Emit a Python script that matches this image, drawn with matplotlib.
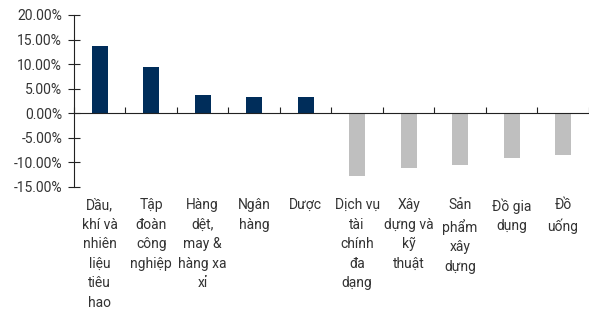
import numpy as np
import matplotlib.pyplot as plt
from matplotlib.ticker import FuncFormatter

categories = ['Dầu,\nkhí và\nnhiên\nliệu\ntiêu\nhao', 'Tập\nđoàn\ncông\nnghiệp',
              'Hàng\ndệt,\nmay &\nhàng xa\nxỉ', 'Ngân\nhàng', 'Dược',
              'Dịch vụ\ntài\nchính\nđa\ndạng', 'Xây\ndựng và\nkỹ\nthuật',
              'Sản\nphẩm\nxây\ndựng', 'Đồ gia\ndụng', 'Đồ\nuống']
values = [13.7, 9.4, 3.8, 3.4, 3.3, -12.7, -11.2, -10.6, -9.1, -8.6]

plt.rcParams['font.family'] = ['Roboto', 'DejaVu Sans']
text_color = '#333333'

fig = plt.figure(figsize=(5.89, 3.19), dpi=100)
ax = fig.add_axes([0.1256, 0.414, 0.874, 0.539])

x = np.arange(len(values))
colors = ['#002D5A' if v >= 0 else '#BFBFBF' for v in values]
ax.bar(x, values, width=0.31, color=colors)

ax.set_xlim(-0.5, len(values) - 0.5)
ax.set_ylim(-15, 20)
ax.set_yticks(np.arange(-15, 21, 5))
ax.yaxis.set_major_formatter(FuncFormatter(lambda v, p: '{:.2f}%'.format(v)))

for s in ['top', 'right']:
    ax.spines[s].set_visible(False)
ax.spines['bottom'].set_position(('data', 0))
ax.spines['left'].set_color('#222222')
ax.spines['bottom'].set_color('#222222')

ax.set_xticks(np.arange(len(values) + 1) - 0.5)
ax.set_xticklabels([])
ax.tick_params(axis='x', direction='in', length=4, color='#222222')
ax.tick_params(axis='y', direction='inout', length=9, color='#222222',
               labelsize=10, labelcolor=text_color, pad=4)

for i, label in enumerate(categories):
    ax.text(i, -0.065, label, transform=ax.get_xaxis_transform(),
            ha='center', va='top', fontsize=10, color=text_color,
            linespacing=1.5)

fig.savefig('out.png', dpi=100)
